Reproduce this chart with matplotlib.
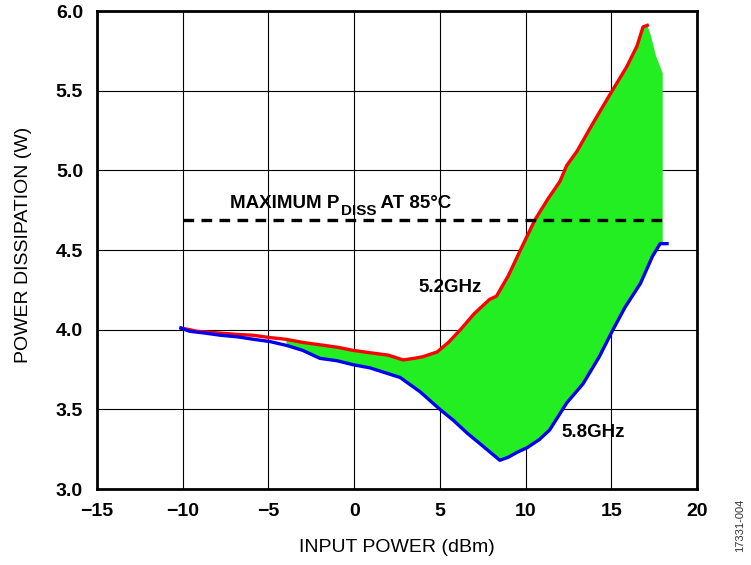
import numpy as np
import matplotlib
matplotlib.use('Agg')
import matplotlib.pyplot as plt

plt.rcParams['font.family'] = ['Liberation Sans', 'DejaVu Sans']

# 5.2 GHz curve (red)
red_x = [-10.1, -9.6, -9.2, -8.0, -6.8, -5.9, -4.9, -4.0, -3.0, -2.0, -1.0, -0.06, 0.93, 2.0, 2.85, 3.5, 4.0,
         4.84, 5.5, 6.2, 7.0, 7.9, 8.3, 9.0, 9.7, 10.55, 11.3, 12.0, 12.4, 13.0, 13.9, 15.0, 15.9, 16.5, 16.85, 17.1]
red_y = [4.01, 4.0, 3.99, 3.98, 3.97, 3.965, 3.95, 3.94, 3.92, 3.905, 3.89, 3.87, 3.855, 3.84, 3.81, 3.82, 3.83,
         3.86, 3.92, 4.0, 4.1, 4.19, 4.21, 4.34, 4.5, 4.69, 4.82, 4.93, 5.03, 5.12, 5.29, 5.49, 5.65, 5.78, 5.9, 5.91]

# 5.8 GHz curve (blue)
blue_x = [-10.1, -9.6, -8.8, -7.8, -6.8, -5.9, -4.9, -3.9, -3.0, -2.0, -1.0, -0.06, 0.93, 1.8, 2.68, 3.85, 5.0,
          5.8, 6.6, 7.5, 8.5, 9.0, 9.5, 10.1, 10.8, 11.4, 12.4, 13.35, 14.3, 15.1, 15.8, 16.1, 16.7, 17.4, 17.85, 18.25]
blue_y = [4.01, 3.99, 3.98, 3.965, 3.955, 3.94, 3.925, 3.9, 3.87, 3.82, 3.805, 3.78, 3.76, 3.73, 3.70, 3.61, 3.50,
          3.43, 3.35, 3.27, 3.18, 3.2, 3.23, 3.26, 3.31, 3.37, 3.54, 3.66, 3.83, 4.0, 4.14, 4.19, 4.29, 4.46, 4.54, 4.54]

# right edge of the green band (frequencies in between)
tail_x = [17.3, 17.6, 18.0, 18.0]
tail_y = [5.85, 5.72, 5.61, 4.54]

# max dissipation at 85C
pdiss_x = [-10, 18.2]
pdiss_y = [4.69, 4.69]

fill_start = -4.0

fig = plt.figure(figsize=(7.51, 5.65), dpi=100)
ax = fig.add_axes([97/751, 1 - 489/565, 600/751, 478/565])

# green band between the two curves
rx = np.array(red_x); ry = np.array(red_y)
bx = np.array(blue_x); by = np.array(blue_y)
top_x = np.concatenate([rx[rx >= fill_start], tail_x])
top_y = np.concatenate([ry[rx >= fill_start], tail_y])
m = (bx >= fill_start) & (bx <= 18.0)
poly_x = np.concatenate([top_x, bx[m][::-1]])
poly_y = np.concatenate([top_y, by[m][::-1]])
ax.fill(poly_x, poly_y, color='#22ee22', lw=0, zorder=2)

ax.plot(red_x, red_y, color='#ff0000', lw=2.4, zorder=3)
ax.plot(blue_x, blue_y, color='#0000ee', lw=2.4, zorder=3)
ax.plot(pdiss_x, pdiss_y, color='black', lw=2.4, linestyle=(0, (3.2, 2.2)), zorder=4)

ax.set_xlim(-15, 20)
ax.set_ylim(3.0, 6.0)
ax.set_xticks(np.arange(-15, 21, 5))
ax.set_yticks(np.arange(3.0, 6.01, 0.5))
ax.set_xticklabels(['\u221215', '\u221210', '\u22125', '0', '5', '10', '15', '20'])
ax.set_yticklabels(['3.0', '3.5', '4.0', '4.5', '5.0', '5.5', '6.0'])
ax.tick_params(length=0, pad=10, labelsize=14)
for lab in ax.get_xticklabels() + ax.get_yticklabels():
    lab.set_fontweight('bold')
ax.grid(True, color='black', lw=0.8)
ax.set_axisbelow(True)
for s in ax.spines.values():
    s.set_linewidth(2.0)
    s.set_zorder(5)

ax.set_xlabel('INPUT POWER (dBm)', fontsize=14)
ax.set_ylabel('POWER DISSIPATION (W)', fontsize=14)
ax.xaxis.label.set_va('center')
ax.yaxis.label.set_va('center')
ax.xaxis.set_label_coords(0.50, -0.123)
ax.yaxis.set_label_coords(-0.122, 0.51)

# annotations
t1 = ax.text(-7.24, 4.763, 'MAXIMUM P', fontsize=13.5, fontweight='bold', va='baseline', zorder=6)
t2 = ax.annotate('DISS', xy=(1, 0), xycoords=t1, xytext=(1, -4), textcoords='offset points',
                 fontsize=11, fontweight='bold', va='bottom', zorder=6)
ax.annotate(' AT 85\u00b0C', xy=(1, 0), xycoords=t2, xytext=(0, 4), textcoords='offset points',
            fontsize=13.5, fontweight='bold', va='bottom', zorder=6)
ax.text(3.73, 4.236, '5.2GHz', fontsize=13.5, fontweight='bold', va='baseline', zorder=6)
ax.text(12.07, 3.326, '5.8GHz', fontsize=13.5, fontweight='bold', va='baseline', zorder=6)

fig.text(740/751, 1 - 525/565, '17331-004', rotation=90, fontsize=8, color='#333333',
         ha='center', va='center')

fig.savefig('out.png', dpi=100)
